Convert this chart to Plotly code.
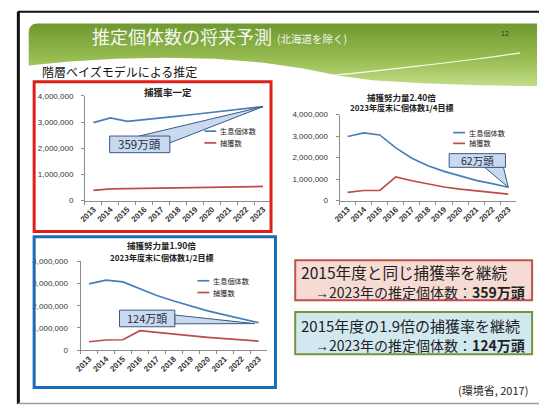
import plotly.graph_objects as go

W, H = 539, 410

# ---------------- data ----------------
years = [str(y) for y in range(2013, 2024)]
series_names = ["生息個体数", "捕獲数"]
series_colors = ["#4a7ebb", "#be4b48"]

pop_constant = [2980000, 3160000, 3030000, 3090000, 3160000, 3230000, 3300000, 3370000, 3440000, 3510000, 3590000]
catch_constant = [390000, 450000, 460000, 470000, 480000, 490000, 500000, 510000, 520000, 530000, 540000]

pop_240 = [2980000, 3150000, 3050000, 2450000, 1970000, 1620000, 1360000, 1140000, 940000, 790000, 620000]
catch_240 = [380000, 470000, 470000, 1100000, 920000, 760000, 630000, 530000, 450000, 370000, 300000]

pop_190 = [2980000, 3150000, 3070000, 2750000, 2460000, 2210000, 1980000, 1770000, 1590000, 1420000, 1240000]
catch_190 = [380000, 460000, 470000, 880000, 800000, 720000, 640000, 580000, 520000, 460000, 410000]

y_ticks = [0, 1000000, 2000000, 3000000, 4000000]

chart_titles = ["捕獲率一定", "捕獲努力量2.40倍", "捕獲努力量1.90倍"]
chart_subtitles = ["", "2023年度末に個体数1/4目標", "2023年度末に個体数1/2目標"]
callout_labels = ["359万頭", "62万頭", "124万頭"]

slide_title = "推定個体数の将来予測"
slide_title_note = "(北海道を除く)"
slide_number = "12"
slide_subtitle = "階層ベイズモデルによる推定"
summary_1 = ["2015年度と同じ捕獲率を継続", "→2023年の推定個体数：", "359万頭"]
summary_2 = ["2015年度の1.9倍の捕獲率を継続", "→2023年の推定個体数：", "124万頭"]
source_text = "(環境省, 2017)"

# ---------------- helpers ----------------
def X(px):
    return px / W

def Y(py):
    return 1 - py / H

JP = "Noto Sans CJK JP"
NUM = "Liberation Sans"

charts = [
    dict(series=(pop_constant, catch_constant), xd=(79, 268), yd=(94, 201), standoff=6),
    dict(series=(pop_240, catch_240), xd=(337, 516), yd=(113, 201), standoff=6),
    dict(series=(pop_190, catch_190), xd=(74.5, 263.5), yd=(263, 354), standoff=7),
]

def data_px(ci, idx, val):
    c = charts[ci]
    x0, x1 = c["xd"]
    y0, y1 = c["yd"]
    n = len(years)
    return x0 + (idx + 0.5) * (x1 - x0) / n, y1 - val / y_ticks[-1] * (y1 - y0)

fig = go.Figure()

# --- pixel-space background axis (for banner gradient) ---
banner_pts = [(22, 28), (23, 24), (26, 21), (30, 20), (537, 20), (537, 84),
              (480, 83), (420, 81), (370, 78), (335, 73), (300, 66), (260, 60),
              (210, 56), (160, 55), (110, 56), (60, 59), (22, 63), (22, 28)]
fig.add_trace(go.Scatter(
    x=[p[0] for p in banner_pts], y=[H - p[1] for p in banner_pts],
    fill="toself", mode="lines", line=dict(width=0, color="rgba(0,0,0,0)"),
    fillgradient=dict(type="vertical",
                      colorscale=[[0, "#c6de8c"], [0.45, "#98bd52"], [1, "#6f9a30"]],
                      start=H - 84, stop=H - 20),
    hoverinfo="skip", showlegend=False, xaxis="x", yaxis="y"))
swoosh = [(300, 76), (360, 70), (420, 63), (470, 57), (520, 50)]
fig.add_trace(go.Scatter(
    x=[p[0] for p in swoosh], y=[H - p[1] for p in swoosh], mode="lines",
    line=dict(color="rgba(255,255,255,0.9)", width=1.2, shape="spline"),
    hoverinfo="skip", showlegend=False, xaxis="x", yaxis="y"))

layout_axes = dict(
    xaxis=dict(domain=[0, 1], range=[0, W], visible=False, fixedrange=True),
    yaxis=dict(domain=[0, 1], range=[0, H], visible=False, fixedrange=True),
)

for ci, c in enumerate(charts):
    n = ci + 2
    xa, ya = f"x{n}", f"y{n}"
    for si, vals in enumerate(c["series"]):
        fig.add_trace(go.Scatter(
            x=years, y=vals, mode="lines", name=series_names[si],
            line=dict(color=series_colors[si], width=1.7),
            showlegend=False, xaxis=xa, yaxis=ya))
    layout_axes[f"xaxis{n}"] = dict(
        domain=[X(c["xd"][0]), X(c["xd"][1])], anchor=ya, type="category",
        range=[-0.5, len(years) - 0.5], tickangle=-45, showline=True,
        linecolor="#8c8c8c", linewidth=1, ticks="outside", ticklen=3,
        tickcolor="#8c8c8c", tickson="boundaries", showgrid=False,
        tickfont=dict(family=NUM, size=8, color="#333333", weight="bold"),
        fixedrange=True)
    layout_axes[f"yaxis{n}"] = dict(
        domain=[Y(c["yd"][1]), Y(c["yd"][0])], anchor=xa,
        range=[0, y_ticks[-1]], tickvals=y_ticks, tickformat=",d",
        showline=True, linecolor="#8c8c8c", linewidth=1, ticks="outside",
        ticklen=3, tickcolor="#8c8c8c", showgrid=False, zeroline=False,
        ticklabelstandoff=c["standoff"],
        tickfont=dict(family=NUM, size=8, color="#333333"),
        fixedrange=True)

shapes = []
annotations = []

# frame
shapes.append(dict(type="line", xref="paper", yref="paper", x0=X(11), x1=X(539), y0=Y(8), y1=Y(8),
                   line=dict(color="#111111", width=2)))
shapes.append(dict(type="line", xref="paper", yref="paper", x0=X(11.5), x1=X(11.5), y0=Y(8), y1=Y(409),
                   line=dict(color="#111111", width=3)))
shapes.append(dict(type="line", xref="paper", yref="paper", x0=X(11), x1=X(539), y0=Y(408.5), y1=Y(408.5),
                   line=dict(color="#9a9a9a", width=1.5)))

# slide title
annotations.append(dict(xref="paper", yref="paper", x=X(84), y=Y(33), xanchor="left", yanchor="middle",
                        text=slide_title, showarrow=False,
                        font=dict(family=JP, size=18, color="#f6f6f0")))
annotations.append(dict(xref="paper", yref="paper", x=X(272), y=Y(35), xanchor="left", yanchor="middle",
                        text=slide_title_note, showarrow=False,
                        font=dict(family=JP, size=10.5, color="#f6f6f0")))
annotations.append(dict(xref="paper", yref="paper", x=X(505), y=Y(30), xanchor="center", yanchor="middle",
                        text=slide_number, showarrow=False,
                        font=dict(family=NUM, size=7, color="#333333")))
annotations.append(dict(xref="paper", yref="paper", x=X(33), y=Y(69), xanchor="left", yanchor="middle",
                        text=slide_subtitle, showarrow=False,
                        font=dict(family=JP, size=12, color="#111111")))

# chart frames
shapes.append(dict(type="rect", xref="paper", yref="paper", x0=X(27.5), x1=X(267.5), y0=Y(79.5), y1=Y(232.5),
                   line=dict(color="#e01f1a", width=3), layer="above"))
shapes.append(dict(type="rect", xref="paper", yref="paper", x0=X(27.5), x1=X(272), y0=Y(238), y1=Y(392),
                   line=dict(color="#1c6cb8", width=3), layer="above"))

# chart titles
title_pos = [(163, 90, None), (400, 95, 106), (157, 246, 259)]
for ci, (tx, ty, sy) in enumerate(title_pos):
    annotations.append(dict(xref="paper", yref="paper", x=X(tx), y=Y(ty), xanchor="center", yanchor="middle",
                            text="<b>" + chart_titles[ci] + "</b>", showarrow=False,
                            font=dict(family=JP, size=9.5 if ci == 0 else 8.5, color="#222222")))
    if sy is not None:
        annotations.append(dict(xref="paper", yref="paper", x=X(tx), y=Y(sy), xanchor="center", yanchor="middle",
                                text="<b>" + chart_subtitles[ci] + "</b>", showarrow=False,
                                font=dict(family=JP, size=8, color="#222222")))

# manual legends
legend_pos = [(200, 130, 142), (452, 131.5, 142.5), (193, 283, 295)]
for ci, (lx, ly1, ly2) in enumerate(legend_pos):
    for si, ly in enumerate((ly1, ly2)):
        shapes.append(dict(type="line", xref="paper", yref="paper", x0=X(lx), x1=X(lx + 12), y0=Y(ly), y1=Y(ly),
                           line=dict(color=series_colors[si], width=1.7)))
        annotations.append(dict(xref="paper", yref="paper", x=X(lx + 14), y=Y(ly), xanchor="left",
                                yanchor="middle", text=series_names[si], showarrow=False,
                                font=dict(family=JP, size=7.2, color="#222222")))

# callouts
def path(pts):
    return "M " + " L ".join(f"{X(a):.5f},{Y(b):.5f}" for a, b in pts) + " Z"

last = len(years) - 1
tip1 = data_px(0, last, pop_constant[last])
tip2 = data_px(1, last, pop_240[last])
tip3 = data_px(2, last, pop_190[last])
callouts = [
    dict(box=(104, 135, 165, 152), wedge=[(134, 135), tip1, (165, 142)], size=11.5),
    dict(box=(448, 153, 505, 167), wedge=[(484, 167), tip2, (503, 167)], size=10.5),
    dict(box=(114, 313, 170, 330), wedge=[(170, 318), (tip3[0] - 4, tip3[1] + 1), (170, 327)], size=11),
]
for ci, co in enumerate(callouts):
    bx0, by0, bx1, by1 = co["box"]
    shapes.append(dict(type="path", xref="paper", yref="paper", path=path(co["wedge"]),
                       fillcolor="#c9daf0", line=dict(color="#3c5a80", width=1), layer="above"))
    shapes.append(dict(type="rect", xref="paper", yref="paper", x0=X(bx0), x1=X(bx1), y0=Y(by0), y1=Y(by1),
                       fillcolor="#c9daf0", line=dict(color="#3c5a80", width=1), layer="above"))
    annotations.append(dict(xref="paper", yref="paper", x=X((bx0 + bx1) / 2), y=Y((by0 + by1) / 2),
                            xanchor="center", yanchor="middle", text=callout_labels[ci], showarrow=False,
                            font=dict(family=JP, size=co["size"], color="#1e2a3a")))

# summary boxes
shapes.append(dict(type="rect", xref="paper", yref="paper", x0=X(292), x1=X(532), y0=Y(262), y1=Y(303),
                   fillcolor="#f6dad4", line=dict(color="#c0504d", width=2), layer="below"))
shapes.append(dict(type="rect", xref="paper", yref="paper", x0=X(292), x1=X(532), y0=Y(315), y1=Y(358),
                   fillcolor="#d2e8f0", line=dict(color="#77933c", width=2), layer="below"))
for (l1, l2, l3), yc, s1 in [(summary_1, 283.5, 15.6), (summary_2, 338, 15.0)]:
    text = (f'<span style="font-size:{s1}px">{l1}</span><br>'
            f'<span style="font-size:14px">\u3000<span style="font-family:Liberation Sans">{l2[0]}</span>'
            f'{l2[1:]}<b>{l3}</b></span>')
    annotations.append(dict(xref="paper", yref="paper", x=X(296), y=Y(yc), xanchor="left", yanchor="middle",
                            align="left", text=text, showarrow=False,
                            font=dict(family=JP, size=14.6, color="#222222")))

annotations.append(dict(xref="paper", yref="paper", x=X(530), y=Y(395), xanchor="right", yanchor="middle",
                        text=source_text, showarrow=False, font=dict(family=JP, size=11, color="#222222")))

fig.update_layout(
    width=W, height=H, margin=dict(l=0, r=0, t=0, b=0),
    paper_bgcolor="white", plot_bgcolor="rgba(0,0,0,0)",
    showlegend=False, shapes=shapes, annotations=annotations,
    **layout_axes)

fig.write_html("out.html", config={"displayModeBar": False},
               post_script="document.body.style.margin='0px';document.body.style.overflow='hidden';")
